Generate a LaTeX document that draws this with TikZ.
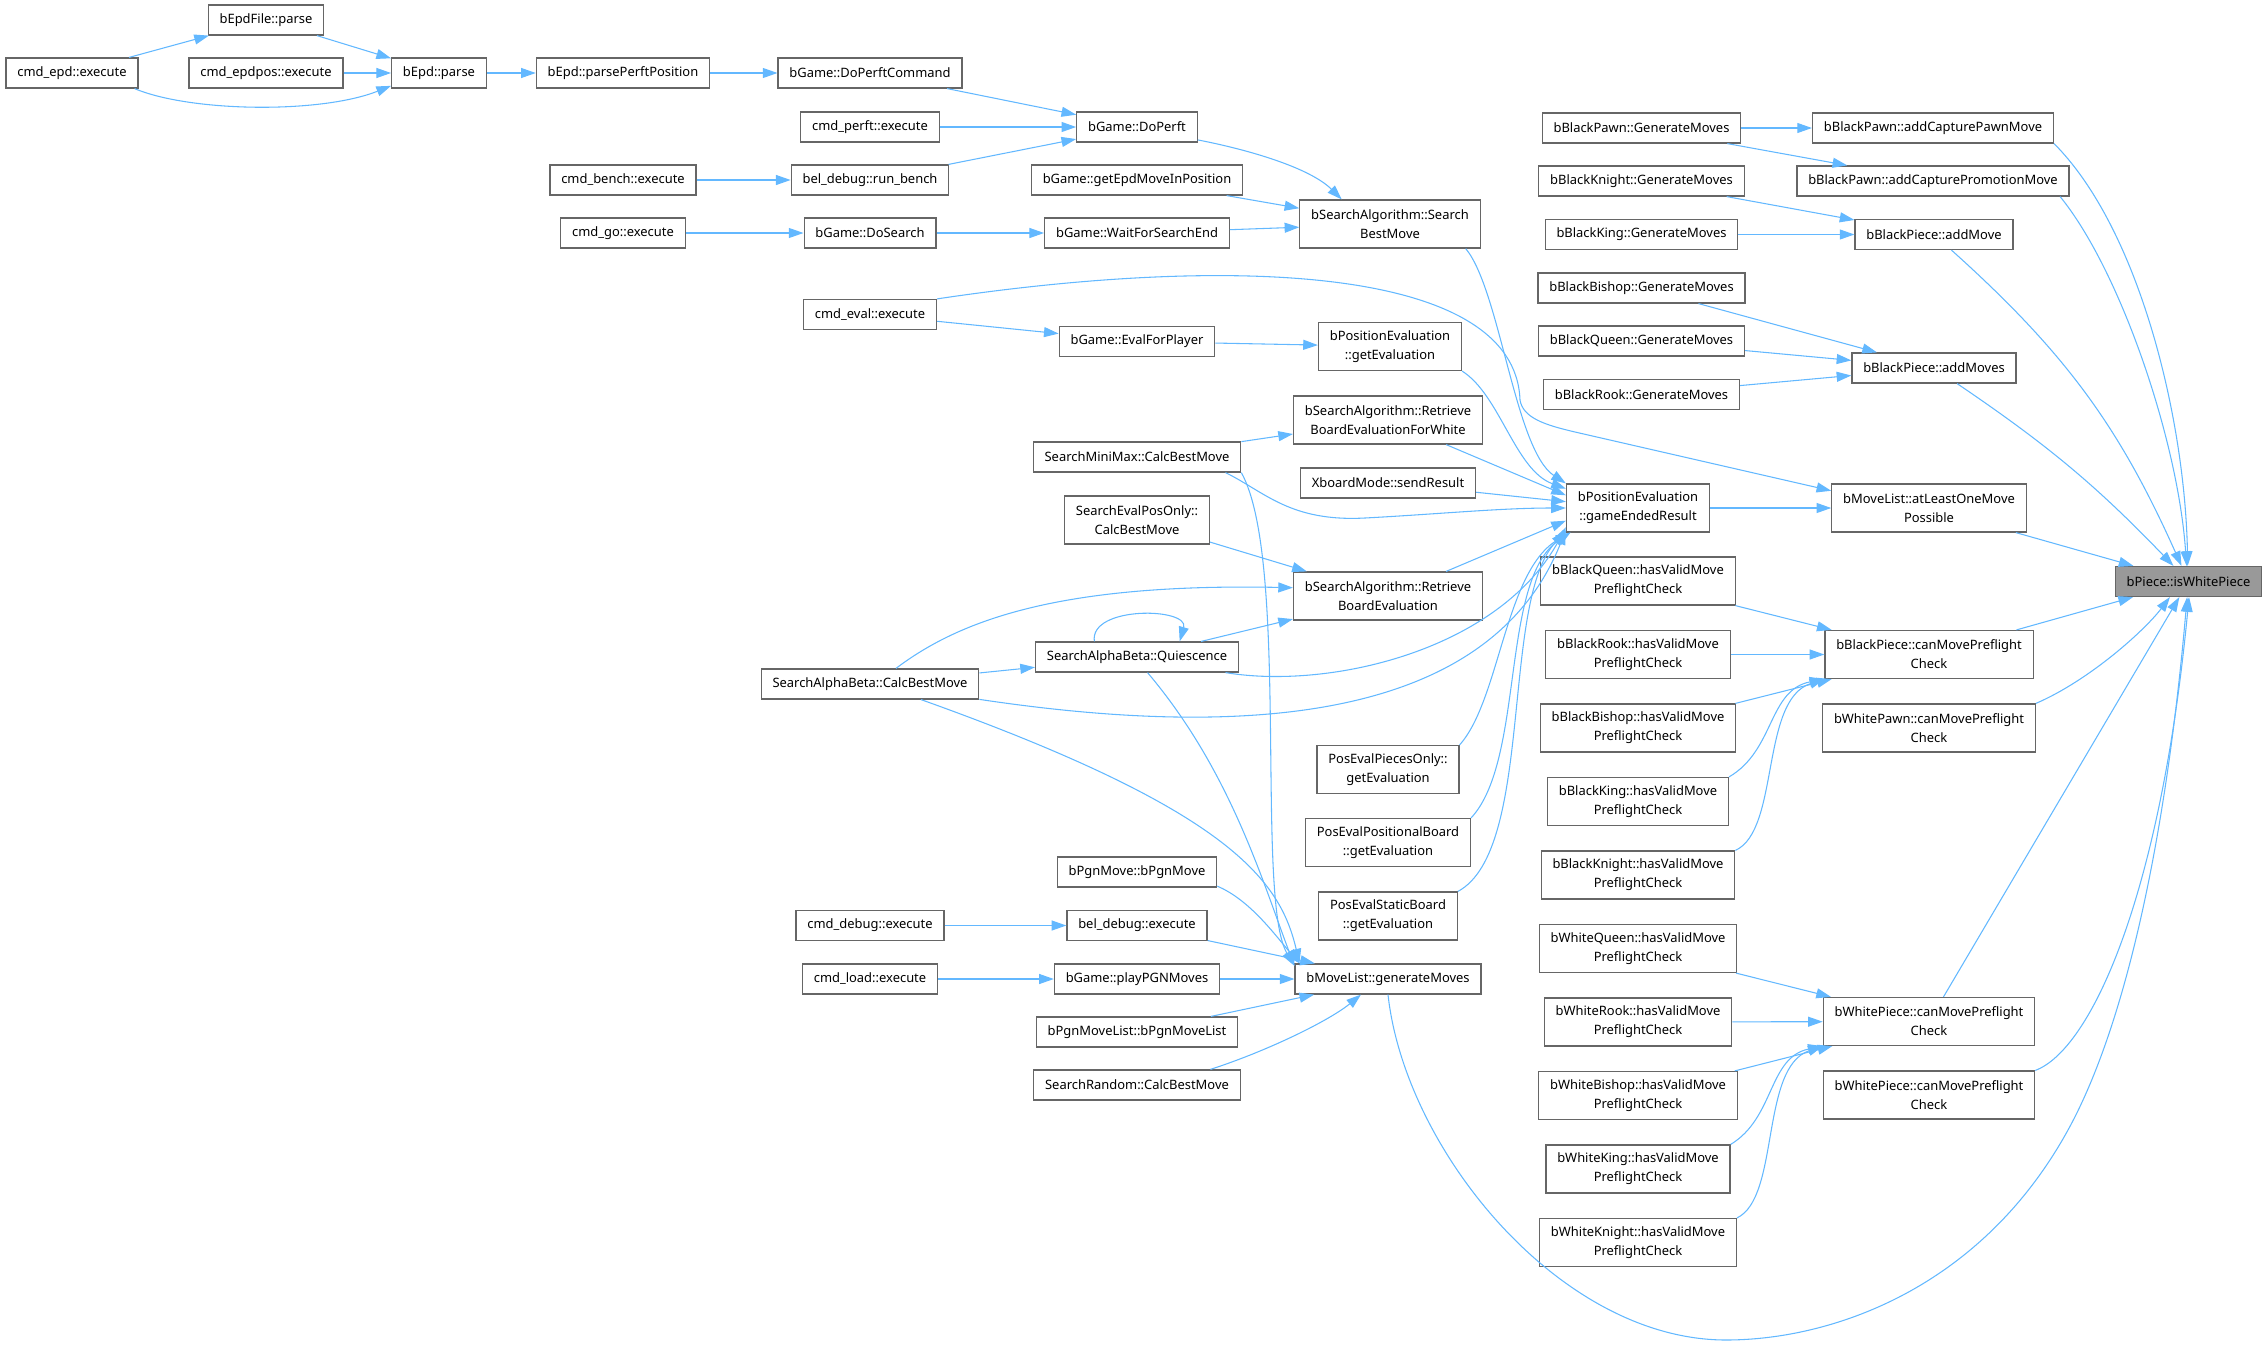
\documentclass[tikz,border=0pt]{standalone}
\usepackage{fontspec}
\setmainfont{Noto Sans}
\usetikzlibrary{arrows.meta}
\definecolor{edgeblue}{HTML}{63B8FF}
\definecolor{boxline}{HTML}{666666}
\definecolor{focusfill}{HTML}{999999}
\begin{document}
\begin{tikzpicture}[x=0.75pt, y=0.75pt,
    fn/.style={draw=boxline, line width=0.9pt, fill=white, align=center,
      inner xsep=8.5pt, inner ysep=2pt, minimum height=22.5pt,
      font=\fontsize{9.7}{14.3}\selectfont},
    fn2/.style={fn, minimum height=36pt},
    focus/.style={fn, fill=focusfill},
    >={Triangle[length=11pt,width=7.5pt]},
    call/.style={->, draw=edgeblue, line width=0.8pt}]
  \useasboundingbox (0,0) rectangle (2268,-1346);

  % commands and callers on the left
  \node[fn] (EpdFile) at (266,-20) {bEpdFile::parse};
  \node[fn] (CmdEpd) at (72,-73) {cmd\_epd::execute};
  \node[fn] (CmdEpdPos) at (266,-73) {cmd\_epdpos::execute};
  \node[fn] (EpdParse) at (439,-73) {bEpd::parse};
  \node[fn] (EpdPerft) at (623,-73) {bEpd::parsePerftPosition};
  \node[fn] (CmdBench) at (623,-180) {cmd\_bench::execute};
  \node[fn] (CmdGo) at (623,-233) {cmd\_go::execute};
  \node[fn] (PerftCmd) at (870,-73) {bGame::DoPerftCommand};
  \node[fn] (CmdPerft) at (870,-127) {cmd\_perft::execute};
  \node[fn] (RunBench) at (870,-180) {bel\_debug::run\_bench};
  \node[fn] (DoSearch) at (870,-233) {bGame::DoSearch};
  \node[fn] (CmdEval) at (870,-314.5) {cmd\_eval::execute};
  \node[fn] (ABCalc) at (870,-684) {SearchAlphaBeta::CalcBestMove};
  \node[fn] (CmdDebug) at (870,-925.5) {cmd\_debug::execute};
  \node[fn] (CmdLoad) at (870,-979) {cmd\_load::execute};

  \node[fn] (DoPerft) at (1137,-127) {bGame::DoPerft};
  \node[fn] (EpdMove) at (1137,-180) {bGame::getEpdMoveInPosition};
  \node[fn] (WaitEnd) at (1137,-233) {bGame::WaitForSearchEnd};
  \node[fn] (EvalPlayer) at (1137,-341.5) {bGame::EvalForPlayer};
  \node[fn] (MiniMax) at (1137,-457) {SearchMiniMax::CalcBestMove};
  \node[fn2] (EvalPosOnly) at (1137,-520) {SearchEvalPosOnly::\\CalcBestMove};
  \node[fn] (Quiesc) at (1137,-657) {SearchAlphaBeta::Quiescence};
  \node[fn] (PgnMove) at (1137,-872) {bPgnMove::bPgnMove};
  \node[fn] (DebugExec) at (1137,-925.5) {bel\_debug::execute};
  \node[fn] (PlayPgn) at (1137,-979) {bGame::playPGNMoves};
  \node[fn] (PgnList) at (1137,-1032) {bPgnMoveList::bPgnMoveList};
  \node[fn] (RandCalc) at (1137,-1085) {SearchRandom::CalcBestMove};

  \node[fn2] (SearchBest) at (1390,-224) {bSearchAlgorithm::Search\\BestMove};
  \node[fn2] (GetEval) at (1390,-346.5) {bPositionEvaluation\\::getEvaluation};
  \node[fn2] (RetrWhite) at (1388,-420) {bSearchAlgorithm::Retrieve\\BoardEvaluationForWhite};
  \node[fn] (SendResult) at (1388,-483) {XboardMode::sendResult};
  \node[fn2] (RetrEval) at (1388,-596) {bSearchAlgorithm::Retrieve\\BoardEvaluation};
  \node[fn2] (PiecesOnly) at (1388,-769.5) {PosEvalPiecesOnly::\\getEvaluation};
  \node[fn2] (Positional) at (1388,-842.5) {PosEvalPositionalBoard\\::getEvaluation};
  \node[fn2] (StaticBoard) at (1388,-916) {PosEvalStaticBoard\\::getEvaluation};
  \node[fn] (GenMoves) at (1388,-979) {bMoveList::generateMoves};

  % piece classes
  \node[fn] (PawnGen) at (1641.5,-128) {bBlackPawn::GenerateMoves};
  \node[fn] (KnightGen) at (1641.5,-181) {bBlackKnight::GenerateMoves};
  \node[fn] (KingGen) at (1641.5,-234.5) {bBlackKing::GenerateMoves};
  \node[fn] (BishopGen) at (1641.5,-288) {bBlackBishop::GenerateMoves};
  \node[fn] (QueenGen) at (1641.5,-341) {bBlackQueen::GenerateMoves};
  \node[fn] (RookGen) at (1641.5,-394.5) {bBlackRook::GenerateMoves};
  \node[fn2] (GameEnded) at (1638,-508) {bPositionEvaluation\\::gameEndedResult};
  \node[fn2] (QueenValid) at (1638,-581) {bBlackQueen::hasValidMove\\PreflightCheck};
  \node[fn2] (RookValid) at (1638,-654.5) {bBlackRook::hasValidMove\\PreflightCheck};
  \node[fn2] (BishopValid) at (1638,-728) {bBlackBishop::hasValidMove\\PreflightCheck};
  \node[fn2] (KingValid) at (1638,-801.5) {bBlackKing::hasValidMove\\PreflightCheck};
  \node[fn2] (KnightValid) at (1638,-875) {bBlackKnight::hasValidMove\\PreflightCheck};
  \node[fn2] (WQueenValid) at (1638,-948.5) {bWhiteQueen::hasValidMove\\PreflightCheck};
  \node[fn2] (WRookValid) at (1638,-1022) {bWhiteRook::hasValidMove\\PreflightCheck};
  \node[fn2] (WBishopValid) at (1638,-1095.5) {bWhiteBishop::hasValidMove\\PreflightCheck};
  \node[fn2] (WKingValid) at (1638,-1169) {bWhiteKing::hasValidMove\\PreflightCheck};
  \node[fn2] (WKnightValid) at (1638,-1242.5) {bWhiteKnight::hasValidMove\\PreflightCheck};

  \node[fn] (CapPawn) at (1933,-128) {bBlackPawn::addCapturePawnMove};
  \node[fn] (CapPromo) at (1933,-181) {bBlackPawn::addCapturePromotionMove};
  \node[fn] (AddMove) at (1934,-234.5) {bBlackPiece::addMove};
  \node[fn] (AddMoves) at (1934,-368) {bBlackPiece::addMoves};
  \node[fn2] (AtLeast) at (1929,-508) {bMoveList::atLeastOneMove\\Possible};
  \node[fn2] (BlackCan) at (1929,-654.5) {bBlackPiece::canMovePreflight\\Check};
  \node[fn2] (PawnCan) at (1929,-728) {bWhitePawn::canMovePreflight\\Check};
  \node[fn2] (WhiteCanA) at (1929,-1021.5) {bWhitePiece::canMovePreflight\\Check};
  \node[fn2] (WhiteCanB) at (1929,-1095) {bWhitePiece::canMovePreflight\\Check};
  \node[focus] (IsWhite) at (2188.5,-581.5) {bPiece::isWhitePiece};

  % epd and perft chain
  \draw[call] (CmdEpd) -- (EpdFile);
  \draw[call] (EpdFile) -- (EpdParse);
  \draw[call] (CmdEpdPos) -- (EpdParse);
  \draw[call] (CmdEpd.-14) .. controls (190,-112) and (320,-114) .. (EpdParse.-165);
  \draw[call] (EpdParse) -- (EpdPerft);
  \draw[call] (EpdPerft) -- (PerftCmd);
  \draw[call] (PerftCmd) -- (DoPerft);
  \draw[call] (CmdPerft) -- (DoPerft);
  \draw[call] (CmdBench) -- (RunBench);
  \draw[call] (RunBench) -- (DoPerft);
  \draw[call] (CmdGo) -- (DoSearch);
  \draw[call] (DoSearch) -- (WaitEnd);
  \draw[call] (DoPerft.-12) .. controls (1250,-150) and (1310,-168) .. (SearchBest.153);
  \draw[call] (EpdMove) -- (SearchBest);
  \draw[call] (WaitEnd) -- (SearchBest);

  % evaluation and search
  \draw[call] (SearchBest.-18) .. controls (1500,-290) and (1515,-450) .. (GameEnded.north west);
  \draw[call] (CmdEval) -- (EvalPlayer);
  \draw[call] (EvalPlayer) -- (GetEval);
  \draw[call] (CmdEval.north east) .. controls (1230,-255) and (1515,-265) .. (1520,-400)
    .. controls (1523,-418) and (1545,-425) .. (1575,-432) -- (AtLeast.170);
  \draw[call] (GetEval.south east) .. controls (1500,-395) and (1515,-470) .. (GameEnded.165);
  \draw[call] (MiniMax) -- (RetrWhite);
  \draw[call] (MiniMax.-10) .. controls (1265,-492) and (1290,-522) .. (1365,-518)
    .. controls (1440,-514) and (1500,-508) .. (GameEnded.west);
  \draw[call] (MiniMax.south east) .. controls (1290,-560) and (1255,-900) .. (GenMoves.172);
  \draw[call] (RetrWhite) -- (GameEnded.170);
  \draw[call] (SendResult) -- (GameEnded.175);
  \draw[call] (EvalPosOnly) -- (RetrEval);
  \draw[call] (RetrEval) -- (GameEnded.190);
  \draw[call] (ABCalc.31) .. controls (960,-620) and (1060,-583) .. (RetrEval.175);
  \draw[call] (ABCalc) -- (Quiesc);
  \draw[call] (ABCalc.-8) .. controls (1250,-740) and (1490,-720) .. (GameEnded.-163);
  \draw[call] (ABCalc.-17) .. controls (1230,-810) and (1280,-880) .. (GenMoves.170);
  \draw[call] ([xshift=-32pt]Quiesc.north) .. controls +(-5,36) and +(10,34) .. ([xshift=32pt]Quiesc.north);
  \draw[call] (Quiesc) -- (RetrEval);
  \draw[call] (Quiesc.-10) .. controls (1330,-690) and (1500,-650) .. (GameEnded.-165);
  \draw[call] (Quiesc.-56) .. controls (1230,-770) and (1262,-880) .. (GenMoves.172);
  \draw[call] (PiecesOnly.north east) .. controls (1500,-700) and (1505,-570) .. (GameEnded.-160);
  \draw[call] (Positional.north east) .. controls (1525,-760) and (1500,-580) .. (GameEnded.-160);
  \draw[call] (StaticBoard.north east) .. controls (1535,-850) and (1500,-600) .. (GameEnded.-162);

  % move generation
  \draw[call] (PgnMove.-10) .. controls (1250,-900) and (1275,-935) .. (GenMoves.170);
  \draw[call] (CmdDebug) -- (DebugExec);
  \draw[call] (DebugExec) -- (GenMoves);
  \draw[call] (CmdLoad) -- (PlayPgn);
  \draw[call] (PlayPgn) -- (GenMoves);
  \draw[call] (PgnList) -- (GenMoves);
  \draw[call] (RandCalc.12) .. controls (1270,-1050) and (1330,-1020) .. (GenMoves.-150);
  \draw[call] (GenMoves.south) .. controls (1405,-1150) and (1560,-1340) .. (1726,-1340)
    .. controls (1830,-1340) and (1980,-1290) .. (2068,-1130)
    .. controls (2123,-1030) and (2165,-850) .. (IsWhite.-95);
  \draw[call] (GameEnded) -- (AtLeast);

  % black pieces
  \draw[call] (PawnGen) -- (CapPawn);
  \draw[call] (PawnGen) -- (CapPromo);
  \draw[call] (KnightGen) -- (AddMove);
  \draw[call] (KingGen) -- (AddMove);
  \draw[call] (BishopGen) -- (AddMoves);
  \draw[call] (QueenGen) -- (AddMoves);
  \draw[call] (RookGen) -- (AddMoves);
  \draw[call] (QueenValid) -- (BlackCan);
  \draw[call] (RookValid) -- (BlackCan);
  \draw[call] (BishopValid) -- (BlackCan);
  \draw[call] (KingValid.north east) .. controls (1775,-750) and (1768,-690) .. (BlackCan.south west);
  \draw[call] (KnightValid.north east) .. controls (1780,-830) and (1760,-700) .. (BlackCan.south west);

  % white pieces
  \draw[call] (WQueenValid) -- (WhiteCanA);
  \draw[call] (WRookValid) -- (WhiteCanA);
  \draw[call] (WBishopValid) -- (WhiteCanA);
  \draw[call] (WKingValid.north east) .. controls (1775,-1117.5) and (1768,-1057.5) .. (WhiteCanA.south west);
  \draw[call] (WKnightValid.north east) .. controls (1780,-1197.5) and (1760,-1067.5) .. (WhiteCanA.south west);

  % into bPiece::isWhitePiece
  \draw[call] (CapPawn.south east) .. controls (2140,-230) and (2185,-420) .. (IsWhite.93);
  \draw[call] (CapPromo.-7) .. controls (2120,-270) and (2178,-440) .. (IsWhite.97);
  \draw[call] (AddMove) to[bend left=12] (IsWhite);
  \draw[call] (AddMoves) to[bend left=6] (IsWhite);
  \draw[call] (AtLeast) -- (IsWhite);
  \draw[call] (BlackCan) -- (IsWhite);
  \draw[call] (PawnCan.north east) .. controls (2090,-680) and (2145,-630) .. (IsWhite.-140);
  \draw[call] (WhiteCanA) -- (IsWhite);
  \draw[call] (WhiteCanB.north east) .. controls (2090,-1050) and (2160,-900) .. (IsWhite.-88);
\end{tikzpicture}
\end{document}
